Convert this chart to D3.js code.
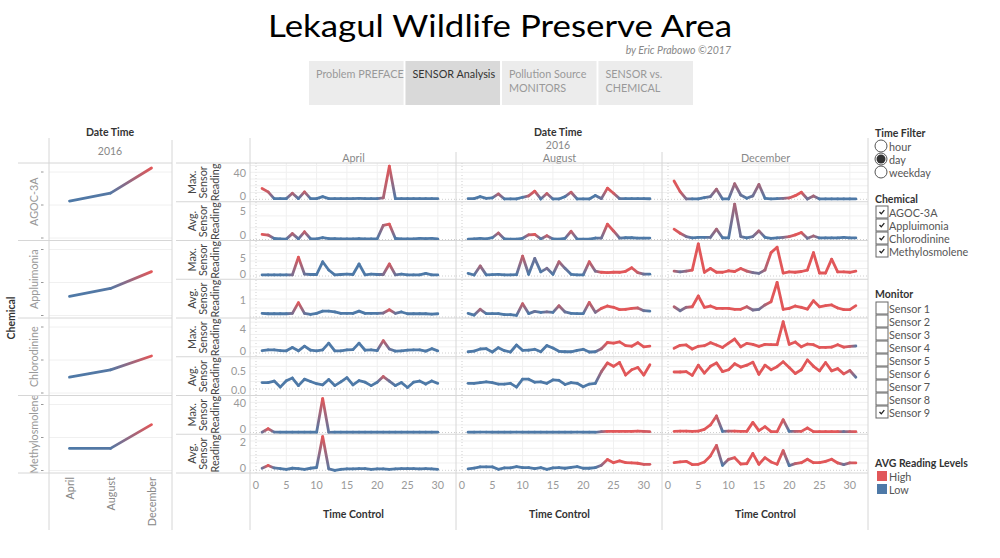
<!DOCTYPE html>
<html><head><meta charset="utf-8">
<script src="https://cdn.jsdelivr.net/npm/d3@7"></script>
<style>
body{margin:0;background:#fff;}
svg{display:block;font-family:Lato,"Open Sans","Noto Sans",sans-serif;}
</style></head><body>
<svg id="chart" width="1000" height="558"></svg>
<script>
// ---------------- DATA ----------------
const months = ["April","August","December"];
const chemicals = ["AGOC-3A","Appluimonia","Chlorodinine","Methylosmolene"];
const measureTitles = [["Max.","Sensor","Reading"],["Avg.","Sensor","Reading"]];
const xTicks = [0,5,10,15,20,25,30];

// AGOC-3A
const maxAgocApr = [16,11,1,1,1,9,1,11,1,1, 4,1,1,1,1,1,1.5,1,1,1, 2,49,1,1,1,1,1,1,1,1];
const avgAgocApr = [0.86,0.75,0.17,0.12,0.06,1.0,0.1,1.3,0.12,0.12, 0.3,0.15,0.14,0.12,0.12,0.12,0.15,0.12,0.1,0.12, 2.4,2.6,0.17,0.12,0.12,0.12,0.2,0.14,0.2,0.1];
const lvlAgocApr = [1,0.8,0,0,0,0.7,0,0.8,0,0, 0,0,0,0,0,0,0,0,0,0, 0.6,1,0,0,0,0,0,0,0,0];
const maxAgocAug = [1,1,4,1.5,2,8,0.5,0.5,0.5,3, 5,12,0.5,8.5,0.5,0.5,4,10.5,0.5,0.5, 0.5,5.5,1,16.5,9,1,1,1,1,1, 0.8];
const avgAgocAug = [0.05,0.1,0.2,0.1,0.3,1.1,0.1,0.05,0.05,0.2, 0.8,0.85,0.1,0.65,0.1,0.05,0.2,1.4,0.05,0.05, 0.05,0.25,0.25,2.6,1.45,0.25,0.3,0.3,0.25,0.25, 0.25];
const lvlAgocAug = [0,0,0,0,0,0.7,0,0,0,0, 0.7,1,0,0.8,0,0,0,0.8,0,0, 0,0,0.2,1,0.9,0.1,0,0,0,0, 0];
const maxAgocDec = [27,11.4,0.5,0.5,0.5,2.5,4,15,0.5,0.5, 23,6.4,1.5,5,22,1.5,0.5,1,1.5,2, 5.4,10.4,0.5,5,0.5,0.5,0.5,0.5,0.5,0.5, 0.5];
const avgAgocDec = [1.75,1.06,0.5,0.26,0.37,0.37,0.37,1.75,0.3,0.26, 6.0,0.5,0.26,0.5,1.46,0.37,0.2,0.26,0.37,0.5, 0.78,1.2,0.2,0.6,0.26,0.26,0.26,0.26,0.37,0.26, 0.26];
const lvlAgocDec = [1,0.9,0.3,0,0,0,0.2,0.6,0,0, 0.6,0.2,0,0.2,0.6,0,0,0,0.3,0.8, 1,1,0.2,0.6,0,0,0,0,0,0, 0];

// Appluimonia
const maxAppApr = [0.3,0.3,0.3,0.3,0.3,0.3,5.0,0.5,0.4,0.4, 3.8,1.6,0.3,0.4,0.5,0.4,3.2,0.3,0.5,0.4, 0.4,3.2,0.3,0.5,0.3,0.3,0.3,0.7,0.3,0.3];
const avgAppApr = [0.2,0.18,0.18,0.18,0.18,0.2,0.8,0.2,0.15,0.2, 0.33,0.33,0.28,0.2,0.2,0.2,0.33,0.2,0.2,0.2, 0.22,0.4,0.2,0.28,0.18,0.18,0.18,0.18,0.16,0.18];
const lvlAppApr = [0,0,0,0,0,0.3,1,0.2,0,0, 0,0,0,0,0,0,0,0,0,0, 0.3,0.9,0.2,0,0,0,0,0,0,0];
const maxAppAug = [0.7,0.27,2.7,0.3,0.35,0.45,0.3,0.3,0.35,5.3, 0.45,4.7,1.1,2.05,0.45,3.8,2.05,0.45,0.3,0.3, 3.8,1.3,1.0,0.9,1.0,1.0,1.25,2.2,0.9,0.5, 0.5];
const avgAppAug = [0.2,0.11,0.43,0.19,0.19,0.19,0.13,0.13,0.09,0.74, 0.19,0.31,0.26,0.28,0.26,0.63,0.28,0.2,0.19,0.19, 0.81,0.26,0.48,0.61,0.54,0.41,0.43,0.48,0.5,0.35, 0.33];
const lvlAppAug = [0,0,0.6,0,0,0,0,0,0,0.8, 0,0.2,0,0.3,0,0.7,0.2,0,0,0, 0.9,0.3,1,1,1,1,1,1,0.8,0.2, 0];
const maxAppDec = [1.3,1.1,1.3,1.6,8.6,1.0,2.0,1.0,1.0,1.4, 1.2,2.0,1.3,0.9,0.7,1.6,6.25,7.7,0.8,1.1, 1.0,1.2,1.6,6.25,0.8,0.8,4.5,1.1,1.1,1.0, 1.3];
const avgAppDec = [0.57,0.35,0.54,0.57,1.17,0.54,0.61,0.48,0.48,0.48, 0.43,0.43,0.57,0.39,0.43,0.67,0.85,1.93,0.43,0.48, 0.61,0.54,0.44,0.91,0.57,0.63,0.67,0.5,0.41,0.41, 0.63];
const lvlAppDec = [0.7,0.2,0.5,1,1,1,1,1,1,1, 1,1,0.8,0.3,0.2,0.6,1,1,1,1, 1,1,1,1,1,1,1,1,1,1, 1];

// Chlorodinine
const maxChlApr = [0.4,0.5,0.5,0.4,0.35,0.9,0.35,1.1,0.45,0.35, 0.5,1.6,0.35,0.35,0.5,0.55,1.6,0.45,0.5,0.4, 2.0,0.65,0.3,0.35,0.45,0.5,0.5,0.3,0.7,0.35];
const avgChlApr = [0.17,0.17,0.21,0.05,0.22,0.29,0.09,0.26,0.2,0.14, 0.11,0.25,0.09,0.19,0.3,0.11,0.22,0.18,0.09,0.18, 0.33,0.21,0.09,0.17,0.04,0.18,0.21,0.13,0.21,0.15];
const lvlChlApr = [0,0,0,0,0,0,0,0,0,0, 0,0,0,0,0,0,0,0,0,0, 0.8,0.2,0,0,0,0,0,0,0,0];
const maxChlAug = [0.2,0.3,0.65,0.7,0.16,0.86,0.38,0.16,1.3,0.43, 0.45,0.6,0.2,1.2,0.8,0.27,0.2,0.2,0.43,0.6, 0.16,0.2,0.7,1.7,1.6,1.8,1.2,1.1,1.67,1.0, 1.1];
const avgChlAug = [0.15,0.15,0.17,0.19,0.17,0.13,0.13,0.15,0.05,0.26, 0.26,0.18,0.19,0.15,0.24,0.23,0.12,0.17,0.15,0.06, 0.13,0.15,0.46,0.69,0.6,0.7,0.37,0.51,0.57,0.37, 0.64];
const lvlChlAug = [0,0,0,0,0,0,0,0,0,0, 0,0,0,0,0,0,0,0,0,0, 0,0,0.6,1,1,1,1,1,1,1, 1];
const maxChlDec = [0.75,1.24,1.3,0.65,1.08,1.18,1.67,1.3,0.9,1.6, 2.26,1.0,1.56,1.4,1.08,1.4,1.34,1.34,5.05,1.4, 1.77,1.0,1.45,1.34,0.9,0.9,0.95,1.34,0.95,1.08, 1.13];
const avgChlDec = [0.45,0.45,0.46,0.36,0.63,0.42,0.6,0.69,0.46,0.51, 0.67,0.58,0.63,0.71,0.39,0.63,0.51,0.59,0.72,0.57, 0.41,0.51,0.77,0.6,0.48,0.7,0.48,0.54,0.4,0.49, 0.31];
const lvlChlDec = [1,1,1,1,1,1,1,1,1,1, 1,1,1,1,1,1,1,1,1,1, 1,1,1,1,1,1,1,1,1,0.8, 0.1];

// Methylosmolene
const maxMetApr = [0.3,5,0.5,0.3,0.3,0.3,0.3,0.3,0.3,0.3, 45,0.2,0.3,0.3,0.3,0.3,0.3,0.3,0.3,0.3, 0.3,0.3,0.3,0.3,0.3,0.3,0.3,0.3,0.3,0.3];
const avgMetApr = [0.14,0.33,0.16,0.12,0.07,0.14,0.12,0.07,0.14,0.19, 2.3,0.1,0,0.07,0.1,0.1,0.12,0.12,0.07,0.1, 0.1,0.07,0.1,0.12,0.12,0.12,0.1,0.12,0.1,0.07];
const lvlMetApr = [0.2,1,0.1,0,0,0,0,0,0,0, 1,0.1,0,0,0,0,0,0,0,0, 0,0,0,0,0,0,0,0,0,0];
const maxMetAug = [0.3,0.3,0.4,0.4,0.3,0.3,0.3,0.3,0.4,0.3, 0.3,0.3,0.3,0.3,0.3,0.3,0.3,0.3,0.4,0.3, 0.3,0.3,1.2,1.5,1.5,1.5,1.5,1.5,1.8,1.5, 1.2];
const avgMetAug = [0.1,0.15,0.23,0.23,0.23,0.07,0.16,0.16,0.25,0.18, 0.18,0.11,0.18,0.07,0.16,0.18,0.14,0.2,0.25,0.14, 0.14,0.18,0.34,0.73,0.52,0.64,0.52,0.5,0.48,0.41, 0.41];
const lvlMetAug = [0,0,0,0,0,0,0,0,0,0, 0,0,0,0,0,0,0,0,0,0, 0,0,0.4,1,1,1,1,1,1,0.9, 0.9];
const maxMetDec = [1.5,1.8,1.8,1.5,1.8,4.2,10,22,1.5,1.8, 1.8,1.5,1.5,13.4,2.4,7.7,1.1,1.1,17,1.5, 1.5,1.5,6,1.1,1.1,1.1,1.1,1.1,1.1,1.1, 1.1];
const avgMetDec = [0.52,0.57,0.61,0.39,0.41,0.57,0.98,1.7,0.34,0.75, 0.86,0.43,0.45,1.14,0.41,0.86,0.57,0.41,1.34,0.32, 0.45,0.52,0.75,0.52,0.52,0.61,0.75,0.5,0.39,0.5, 0.5];
const lvlMetDec = [1,1,1,1,1,1,1,0.9,0,0.7, 1,1,1,1,1,1,1,1,0.9,0, 0.7,1,1,1,1,1,1,1,0.2,0.8, 1];

// Left overview (per chemical, April / August / December)
const overviewAgoc = [1.12,1.36,2.12];
const overviewApp  = [0.58,0.82,1.33];
const overviewChl  = [0.48,0.70,1.12];
const overviewMet  = [0.67,0.67,1.39];
const overviewLvl  = [0,0.05,1];

// Legends
const timeFilters = ["hour","day","weekday"];
const selectedFilter = "day";
const sensors = ["Sensor 1","Sensor 2","Sensor 3","Sensor 4","Sensor 5","Sensor 6","Sensor 7","Sensor 8","Sensor 9"];
const selectedSensors = ["Sensor 9"];
const levelNames = ["High","Low"];
const tabs = [["Problem PREFACE"],["SENSOR Analysis"],["Pollution Source","MONITORS"],["SENSOR vs.","CHEMICAL"]];
const activeTab = 1;

// ---------------- DRAW ----------------
const RED = "#e15759", BLUE = "#4e79a7";
const lvlColor = d3.scaleLinear().domain([0,1]).range([BLUE, RED]).interpolate(d3.interpolateRgb);
const svg = d3.select("#chart");
const defs = svg.append("defs");
const gridC = "#d6d6d6", faint = "#f0f0f0";
let gid = 0;

function drawSeries(g, pts, lvls){
  const line = d3.line();
  for(let i=0;i<pts.length-1;i++){
    const c1 = lvlColor(lvls[i]), c2 = lvlColor(lvls[i+1]);
    let stroke = c1;
    if(c1 !== c2){
      const id = "lg" + (gid++);
      const lg = defs.append("linearGradient").attr("id", id).attr("gradientUnits","userSpaceOnUse")
        .attr("x1", pts[i][0]).attr("y1", pts[i][1]).attr("x2", pts[i+1][0]).attr("y2", pts[i+1][1]);
      lg.append("stop").attr("offset", 0).attr("stop-color", c1);
      lg.append("stop").attr("offset", 1).attr("stop-color", c2);
      stroke = `url(#${id})`;
    }
    g.append("path").attr("d", line([pts[i], pts[i+1]])).attr("fill","none")
      .attr("stroke", stroke).attr("stroke-width", 2.8).attr("stroke-linecap","round");
  }
}

// Title
svg.append("text").attr("x",500).attr("y",37).attr("text-anchor","middle")
  .attr("font-size",31).attr("fill","#000").attr("textLength",464).attr("lengthAdjust","spacingAndGlyphs")
  .text("Lekagul Wildlife Preserve Area");
svg.append("text").attr("x",731).attr("y",50).attr("text-anchor","end").attr("dominant-baseline","central")
  .attr("font-size",10.5).attr("font-style","italic").attr("fill","#888").text("by Eric Prabowo ©2017");

// Tabs
const tabX = d3.scaleBand().domain(d3.range(tabs.length)).range([309, 693]).paddingInner(0.02);
tabs.forEach((t,i)=>{
  const x0 = tabX(i);
  svg.append("rect").attr("x",x0).attr("y",61).attr("width",tabX.bandwidth()).attr("height",44)
    .attr("fill", i===activeTab ? "#d9d9d9" : "#ececec");
  t.forEach((line,k)=>{
    svg.append("text").attr("x",x0+7).attr("y",73.5+k*13.5).attr("dominant-baseline","central")
      .attr("font-size",10.8).attr("fill", i===activeTab ? "#333" : "#999").text(line);
  });
});

// ---------- Left overview panel ----------
const L0 = 49, L1 = 172, gridTop = 163, gridBottom = 473;
const leftRowH = (gridBottom - gridTop) / chemicals.length;
const xLeft = d3.scalePoint().domain(months).range([L0, L1]).padding(0.5);
const overviewVals = [overviewAgoc, overviewApp, overviewChl, overviewMet];

svg.append("text").attr("x",110).attr("y",132).attr("text-anchor","middle").attr("dominant-baseline","central")
  .attr("font-size",10.5).attr("font-weight","bold").attr("fill","#333").text("Date Time");
svg.append("text").attr("x",110).attr("y",151).attr("text-anchor","middle").attr("dominant-baseline","central")
  .attr("font-size",10.5).attr("fill","#888").text("2016");
svg.append("text").attr("transform",`translate(11,${(gridTop+gridBottom)/2}) rotate(-90)`)
  .attr("text-anchor","middle").attr("dominant-baseline","central")
  .attr("font-size",10.5).attr("font-weight","bold").attr("fill","#333").text("Chemical");

chemicals.forEach((c,j)=>{
  const top = gridTop + j*leftRowH;
  const y = d3.scaleLinear().domain([0,2]).range([top+75, top+9]);
  const g = svg.append("g");
  [0,1,2].forEach(t=>{
    g.append("line").attr("x1",L0).attr("x2",L1).attr("y1",y(t)).attr("y2",y(t)).attr("stroke",faint);
    g.append("line").attr("x1",41).attr("x2",43.5).attr("y1",y(t)).attr("y2",y(t)).attr("stroke","#999");
  });
  const pts = months.map((m,i)=>[xLeft(m), y(overviewVals[j][i])]);
  drawSeries(g, pts, overviewLvl);
  svg.append("text").attr("transform",`translate(33,${top+leftRowH/2}) rotate(-90)`)
    .attr("text-anchor","middle").attr("dominant-baseline","central")
    .attr("font-size",10.8).attr("fill","#999").text(c);
});
months.forEach(m=>{
  svg.append("text").attr("transform",`translate(${xLeft(m)},477) rotate(-90)`)
    .attr("text-anchor","end").attr("dominant-baseline","central")
    .attr("font-size",10.8).attr("fill","#888").text(m);
});
for(let j=0;j<=chemicals.length;j++){
  const yy = gridTop + j*leftRowH;
  svg.append("line").attr("x1",18).attr("x2",L1).attr("y1",yy).attr("y2",yy).attr("stroke",gridC);
}

// ---------- Main small-multiples ----------
const panelL = [250, 456, 662], panelW = 206;
const rowH = (gridBottom - gridTop) / 8;
const rowDefs = [
  {chem:0, meas:0, series:[maxAgocApr,maxAgocAug,maxAgocDec], dmax:50.8, padB:2.45, ticks:[0,40], fmt:"d"},
  {chem:0, meas:1, series:[avgAgocApr,avgAgocAug,avgAgocDec], dmax:6.06, padB:1.0, ticks:[0,5], fmt:"d"},
  {chem:1, meas:0, series:[maxAppApr,maxAppAug,maxAppDec], dmax:8.96, padB:3.25, ticks:[0,5], fmt:"d"},
  {chem:1, meas:1, series:[avgAppApr,avgAppAug,avgAppDec], dmax:1.99, padB:1.0, ticks:[1], fmt:"d"},
  {chem:2, meas:0, series:[maxChlApr,maxChlAug,maxChlDec], dmax:5.34, padB:3.75, ticks:[0,4], fmt:"d"},
  {chem:2, meas:1, series:[avgChlApr,avgChlAug,avgChlDec], dmax:0.80, padB:6.5, ticks:[0,0.5], fmt:".1f"},
  {chem:3, meas:0, series:[maxMetApr,maxMetAug,maxMetDec], dmax:46.4, padB:1.75, ticks:[0,40], fmt:"d"},
  {chem:3, meas:1, series:[avgMetApr,avgMetAug,avgMetDec], dmax:2.32, padB:2.7, ticks:[0,2], fmt:"d"},
];
const levels = [
  [lvlAgocApr,lvlAgocAug,lvlAgocDec],
  [lvlAppApr,lvlAppAug,lvlAppDec],
  [lvlChlApr,lvlChlAug,lvlChlDec],
  [lvlMetApr,lvlMetAug,lvlMetDec]
];

svg.append("text").attr("x",558).attr("y",132).attr("text-anchor","middle").attr("dominant-baseline","central")
  .attr("font-size",10.5).attr("font-weight","bold").attr("fill","#333").text("Date Time");
svg.append("text").attr("x",558).attr("y",145).attr("text-anchor","middle").attr("dominant-baseline","central")
  .attr("font-size",10.5).attr("fill","#888").text("2016");

const xScales = panelL.map(L => d3.scaleLinear().domain([0,33]).range([L+6, L+panelW]));

months.forEach((m,pi)=>{
  const cx = panelL[pi] + panelW/2 + 0.5;
  svg.append("text").attr("x",cx).attr("y",157.5).attr("text-anchor","middle").attr("dominant-baseline","central")
    .attr("font-size",10.8).attr("fill","#888").text(m);
  svg.append("text").attr("x",cx).attr("y",514).attr("text-anchor","middle").attr("dominant-baseline","central")
    .attr("font-size",10.5).attr("font-weight","bold").attr("fill","#333").text("Time Control");
  const x = xScales[pi];
  const g = svg.append("g");
  xTicks.forEach(t=>{
    if(t===0) return;
    g.append("line").attr("x1",x(t)).attr("x2",x(t)).attr("y1",gridTop).attr("y2",gridBottom).attr("stroke",faint);
  });
  g.append("line").attr("x1",x(0)).attr("x2",x(0)).attr("y1",gridTop).attr("y2",gridBottom)
    .attr("stroke","#cfcfcf").attr("stroke-dasharray","1,2");
  xTicks.forEach(t=>{
    svg.append("text").attr("x",x(t)).attr("y",484).attr("text-anchor","middle").attr("dominant-baseline","central")
      .attr("font-size",10.8).attr("fill","#999").text(t);
  });
});

rowDefs.forEach((r,ri)=>{
  const top = gridTop + ri*rowH, bottom = top + rowH;
  const y = d3.scaleLinear().domain([0, r.dmax]).range([bottom - r.padB, top + 2]);
  const fmt = d3.format(r.fmt);
  measureTitles[r.meas].forEach((w,k)=>{
    svg.append("text").attr("transform",`translate(${191+k*11.5},${top+rowH/2}) rotate(-90)`)
      .attr("text-anchor","middle").attr("dominant-baseline","central")
      .attr("font-size",10.8).attr("fill","#444").text(w);
  });
  r.ticks.forEach(t=>{
    const ty = Math.max(top+7, Math.min(bottom-6, y(t)));
    svg.append("text").attr("x",246).attr("y",ty).attr("text-anchor","end").attr("dominant-baseline","central")
      .attr("font-size",10.8).attr("fill","#999").text(fmt(t));
  });
  panelL.forEach((L,pi)=>{
    const x = xScales[pi];
    const g = svg.append("g");
    y.ticks(4).forEach(t=>{
      if(t===0) return;
      g.append("line").attr("x1",L).attr("x2",L+panelW).attr("y1",y(t)).attr("y2",y(t)).attr("stroke",faint);
    });
    g.append("line").attr("x1",L).attr("x2",L+panelW).attr("y1",y(0)).attr("y2",y(0))
      .attr("stroke","#cfcfcf").attr("stroke-dasharray","1,2");
    const vals = r.series[pi];
    const lv = levels[r.chem][pi];
    const pts = vals.map((v,i)=>[x(i+1), y(v)]);
    drawSeries(g, pts, lv);
  });
});

for(let i=0;i<=8;i++){
  const yy = gridTop + i*rowH;
  svg.append("line").attr("x1",176).attr("x2",868).attr("y1",yy).attr("y2",yy).attr("stroke",gridC);
}
[[49,138,530],[172,140,530],[250,138,530],[456,152,530],[662,152,530],[868,138,530]].forEach(([x,y1,y2])=>{
  svg.append("line").attr("x1",x).attr("x2",x).attr("y1",y1).attr("y2",y2).attr("stroke",gridC);
});

// ---------- Right legends ----------
const RX = 875;
function heading(t,y){
  svg.append("text").attr("x",RX).attr("y",y).attr("dominant-baseline","central")
    .attr("font-size",10.5).attr("font-weight","bold").attr("fill","#333").text(t);
}
function label(t,y){
  svg.append("text").attr("x",RX+14).attr("y",y).attr("dominant-baseline","central")
    .attr("font-size",10.8).attr("fill","#555").text(t);
}
heading("Time Filter",133);
timeFilters.forEach((t,i)=>{
  const cy = 146 + i*13;
  svg.append("circle").attr("cx",RX+6).attr("cy",cy).attr("r",6).attr("fill","#fff").attr("stroke","#555");
  if(t===selectedFilter) svg.append("circle").attr("cx",RX+6).attr("cy",cy).attr("r",4.5).attr("fill","#333");
  label(t,cy);
});
function checkbox(y, checked){
  svg.append("rect").attr("x",RX+1).attr("y",y-6).attr("width",12).attr("height",12)
    .attr("fill","#fff").attr("stroke","#666");
  if(checked) svg.append("path").attr("d",`M${RX+4.5},${y} l1.8,1.8 l3,-3.6`)
    .attr("fill","none").attr("stroke","#222").attr("stroke-width",1.3);
}
heading("Chemical",199);
chemicals.forEach((c,i)=>{ const cy = 212 + i*13; checkbox(cy, true); label(c,cy); });
heading("Monitor",294);
sensors.forEach((s,i)=>{ const cy = 308 + i*13; checkbox(cy, selectedSensors.includes(s)); label(s,cy); });
heading("AVG Reading Levels",463);
levelNames.forEach((n,i)=>{
  const cy = 476 + i*13;
  svg.append("rect").attr("x",RX+2).attr("y",cy-5).attr("width",10).attr("height",10)
    .attr("fill", n==="High" ? RED : BLUE);
  label(n,cy);
});
</script></body></html>
